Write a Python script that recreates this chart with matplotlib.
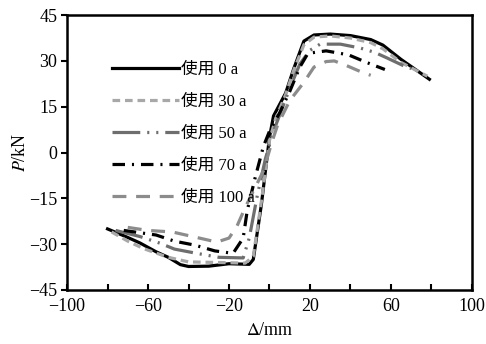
import matplotlib
matplotlib.use("Agg")
import matplotlib.pyplot as plt
from matplotlib.ticker import FixedLocator, FixedFormatter

plt.rcParams['font.family'] = ['Liberation Serif', 'Noto Sans CJK SC']
plt.rcParams['lines.scale_dashes'] = False
plt.rcParams['mathtext.fontset'] = 'stix'

# skeleton curves, displacement (mm) vs load (kN)
x_0a = [-80, -70, -64, -56, -50, -44, -40, -30, -20, -10, -8, -4, 0, 2, 8, 12, 17, 22, 30, 40, 50, 56, 65, 79]
y_0a = [-25, -27.8, -29.6, -32.5, -34.3, -36.7, -37.3, -37.2, -36.4, -36.6, -35, -17, 5, 12, 19.5, 27.5, 36.5, 38.5, 38.8, 38.3, 37, 35.2, 30.5, 24]

x_30a = [-78, -70, -62, -50, -40, -25, -12, -8, -4, 0, 3, 8, 12, 17, 22, 30, 40, 50, 56, 65, 78]
y_30a = [-26, -29, -31.5, -34.3, -35.8, -36, -36.2, -34, -16, 4, 11, 19, 27, 35.3, 37.8, 38.2, 37.5, 36, 34, 29.5, 25]

x_50a = [-76, -64, -54, -47, -36, -25, -13, -10, -6, -2, 2, 10, 15, 20, 25, 35, 45, 52, 58, 66, 70]
y_50a = [-25.5, -27.5, -29.7, -31.6, -33, -34.3, -34.5, -28, -14, -2, 7, 21, 29, 33.5, 35.5, 35.5, 34.2, 32.8, 31, 28.5, 27.5]

x_70a = [-72, -56, -47, -37, -27, -18, -13, -11, -7, -3, 0, 5, 10, 15, 19, 28, 39, 48, 57]
y_70a = [-25.5, -27, -29, -30.3, -32.2, -33, -28, -19, -8, 2, 7, 13, 20, 28, 32.5, 33.3, 32, 29.5, 27.2]

x_100a = [-70, -60, -48, -38, -26, -20, -16, -12, -6, -3, 1, 4, 10, 17, 22, 28, 32, 38, 45, 50]
y_100a = [-24.5, -25.5, -26, -27.5, -29.3, -28, -24, -18, -10, -6, 3, 9, 17, 23, 28, 29.8, 30, 28.5, 26.5, 25.3]

labels = ['使用 0 a', '使用 30 a', '使用 50 a', '使用 70 a', '使用 100 a']

x_ticks = [-100, -80, -60, -40, -20, 0, 20, 40, 60, 80, 100]
x_ticklabels = ['−100', '', '−60', '', '−20', '', '20', '', '60', '', '100']
y_ticks = [-45, -30, -15, 0, 15, 30, 45]
y_ticklabels = ['−45', '−30', '−15', '0', '15', '30', '45']

fig = plt.figure(figsize=(4.86, 3.44), dpi=100)
ax = fig.add_axes([0.138, 0.157, 0.833, 0.799])

lw = 2.3
ax.plot(x_0a, y_0a, color='black', lw=lw, label=labels[0])
ax.plot(x_30a, y_30a, color='#a8a8a8', lw=lw, dashes=(5.5, 3.5), label=labels[1])
ax.plot(x_50a, y_50a, color='#6e6e6e', lw=lw, dashes=(20, 5, 1.5, 5, 1.5, 5), label=labels[2])
ax.plot(x_70a, y_70a, color='black', lw=lw, dashes=(9, 5, 1.5, 5), label=labels[3])
ax.plot(x_100a, y_100a, color='#8c8c8c', lw=lw, dashes=(10, 7), label=labels[4])

ax.set_xlim(-100, 100)
ax.set_ylim(-45, 45)
ax.xaxis.set_major_locator(FixedLocator(x_ticks))
ax.xaxis.set_major_formatter(FixedFormatter(x_ticklabels))
ax.yaxis.set_major_locator(FixedLocator(y_ticks))
ax.yaxis.set_major_formatter(FixedFormatter(y_ticklabels))
ax.tick_params(axis='x', direction='in', length=4, width=1.5, labelsize=13, pad=6)
ax.tick_params(axis='y', direction='out', length=4, width=1.5, labelsize=13, pad=3)
for s in ax.spines.values():
    s.set_linewidth(1.8)

ax.set_xlabel('$\\Delta$/mm', fontsize=13, labelpad=5)
ax.set_ylabel('$P$/kN', fontsize=13, labelpad=0)

leg = ax.legend(loc='upper left', bbox_to_anchor=(0.112, 0.83), frameon=False,
                fontsize=12, handlelength=4.0, handletextpad=0.1,
                labelspacing=0.96, borderaxespad=0, borderpad=0)
leg.set_zorder(10)

fig.savefig('out.png', dpi=100)
